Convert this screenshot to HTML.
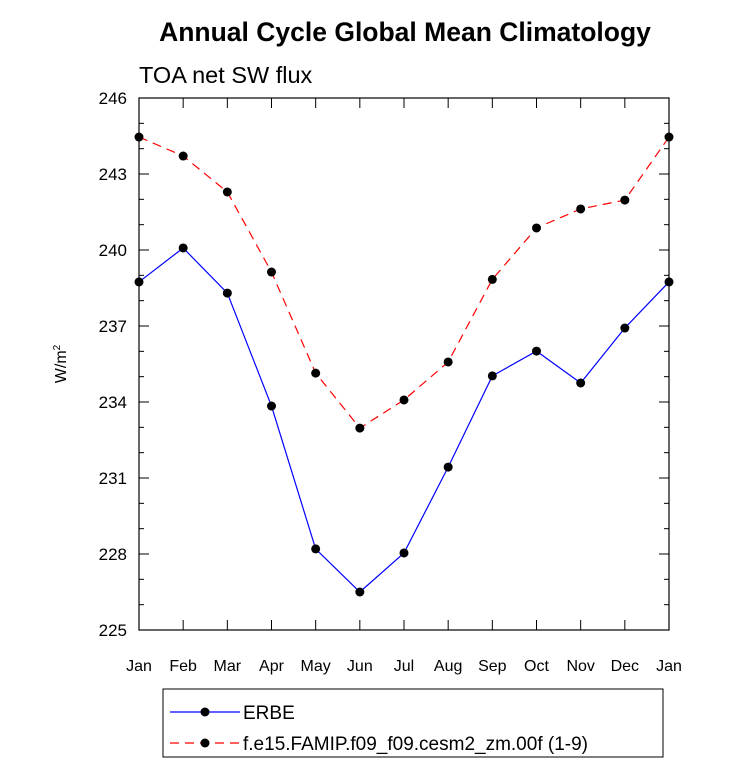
<!DOCTYPE html>
<html><head><meta charset="utf-8"><style>
body{margin:0;background:#fff;}
svg text{font-family:"Liberation Sans",Arial,sans-serif;}
</style></head><body>
<svg id="chart" width="733" height="769" viewBox="0 0 733 769">
<text x="405" y="41" text-anchor="middle" font-size="26.5" font-weight="bold">Annual Cycle Global Mean Climatology</text>
<text x="139" y="83" font-size="23.5">TOA net SW flux</text>
<text transform="translate(66,364) rotate(-90)" text-anchor="middle" font-size="16">W/m<tspan font-size="10" dy="-6">2</tspan></text>
<g id="axes"></g>
<g id="series"></g>
<g>
<rect x="163" y="689" width="500" height="68" fill="none" stroke="#000" stroke-width="1"/>
<line x1="170" y1="712" x2="240" y2="712" stroke="#0000ff" stroke-width="1.2"/>
<circle cx="205" cy="712" r="4.5" fill="#000"/>
<text x="243" y="719" font-size="19">ERBE</text>
<line x1="170" y1="743" x2="240" y2="743" stroke="#ff0000" stroke-width="1.2" stroke-dasharray="9,6"/>
<circle cx="205" cy="743" r="4.5" fill="#000"/>
<text x="243" y="750" font-size="19">f.e15.FAMIP.f09_f09.cesm2_zm.00f (1-9)</text>
</g>
</svg>
<script>
const months = ["Jan","Feb","Mar","Apr","May","Jun","Jul","Aug","Sep","Oct","Nov","Dec","Jan"];
const erbe = [238.74,240.08,238.3,233.84,228.2,226.5,228.04,231.43,235.03,236.01,234.75,236.92,238.74];
const model = [244.46,243.71,242.29,239.13,235.14,232.97,234.08,235.58,238.84,240.87,241.62,241.97,244.46];
const yTicks = [225,228,231,234,237,240,243,246];
const NS="http://www.w3.org/2000/svg";
const L=139,R=669,T=98,B=630,ymin=225,ymax=246;
const xs=i=>L+i*(R-L)/(months.length-1);
const ys=v=>B-(v-ymin)/(ymax-ymin)*(B-T);
function mk(t,a,p){const e=document.createElementNS(NS,t);for(const k in a)e.setAttribute(k,a[k]);p.appendChild(e);return e;}
const ax=document.getElementById('axes'), se=document.getElementById('series');
const frame=mk('rect',{x:L,y:T,width:R-L,height:B-T,fill:'none',stroke:'#000','stroke-width':1.2},ax);


for(let v=ymin;v<=ymax;v++){
  const y=ys(v), major=(v-ymin)%3===0, len=major?10:5;
  mk('line',{x1:L,y1:y,x2:L+len,y2:y,stroke:'#000'},ax);
  mk('line',{x1:R,y1:y,x2:R-len,y2:y,stroke:'#000'},ax);
}
yTicks.forEach(v=>{
  const t=mk('text',{x:L-12,y:ys(v)+6,'text-anchor':'end','font-size':17},ax);
  t.textContent=v;
  
  
});
months.forEach((m,i)=>{
  const x=xs(i);
  mk('line',{x1:x,y1:B,x2:x,y2:B-10,stroke:'#000'},ax);
  mk('line',{x1:x,y1:T,x2:x,y2:T+10,stroke:'#000'},ax);
  const t=mk('text',{x:x,y:B+41,'text-anchor':'middle','font-size':16},ax);
  t.textContent=m;
  
  
});
function draw(vals,color,dash,name){
  const pl=mk('polyline',{points:vals.map((v,i)=>xs(i)+','+ys(v)).join(' '),fill:'none',stroke:color,'stroke-width':1.2,'stroke-dasharray':dash},se);
  
  
  vals.forEach((v,i)=>{
    const c=mk('circle',{cx:xs(i),cy:ys(v),r:4.5,fill:'#000'},se);
    
    
  });
}
draw(erbe,'#0000ff','none','erbe');
draw(model,'#ff0000','9,6','model');
</script>
</body></html>
